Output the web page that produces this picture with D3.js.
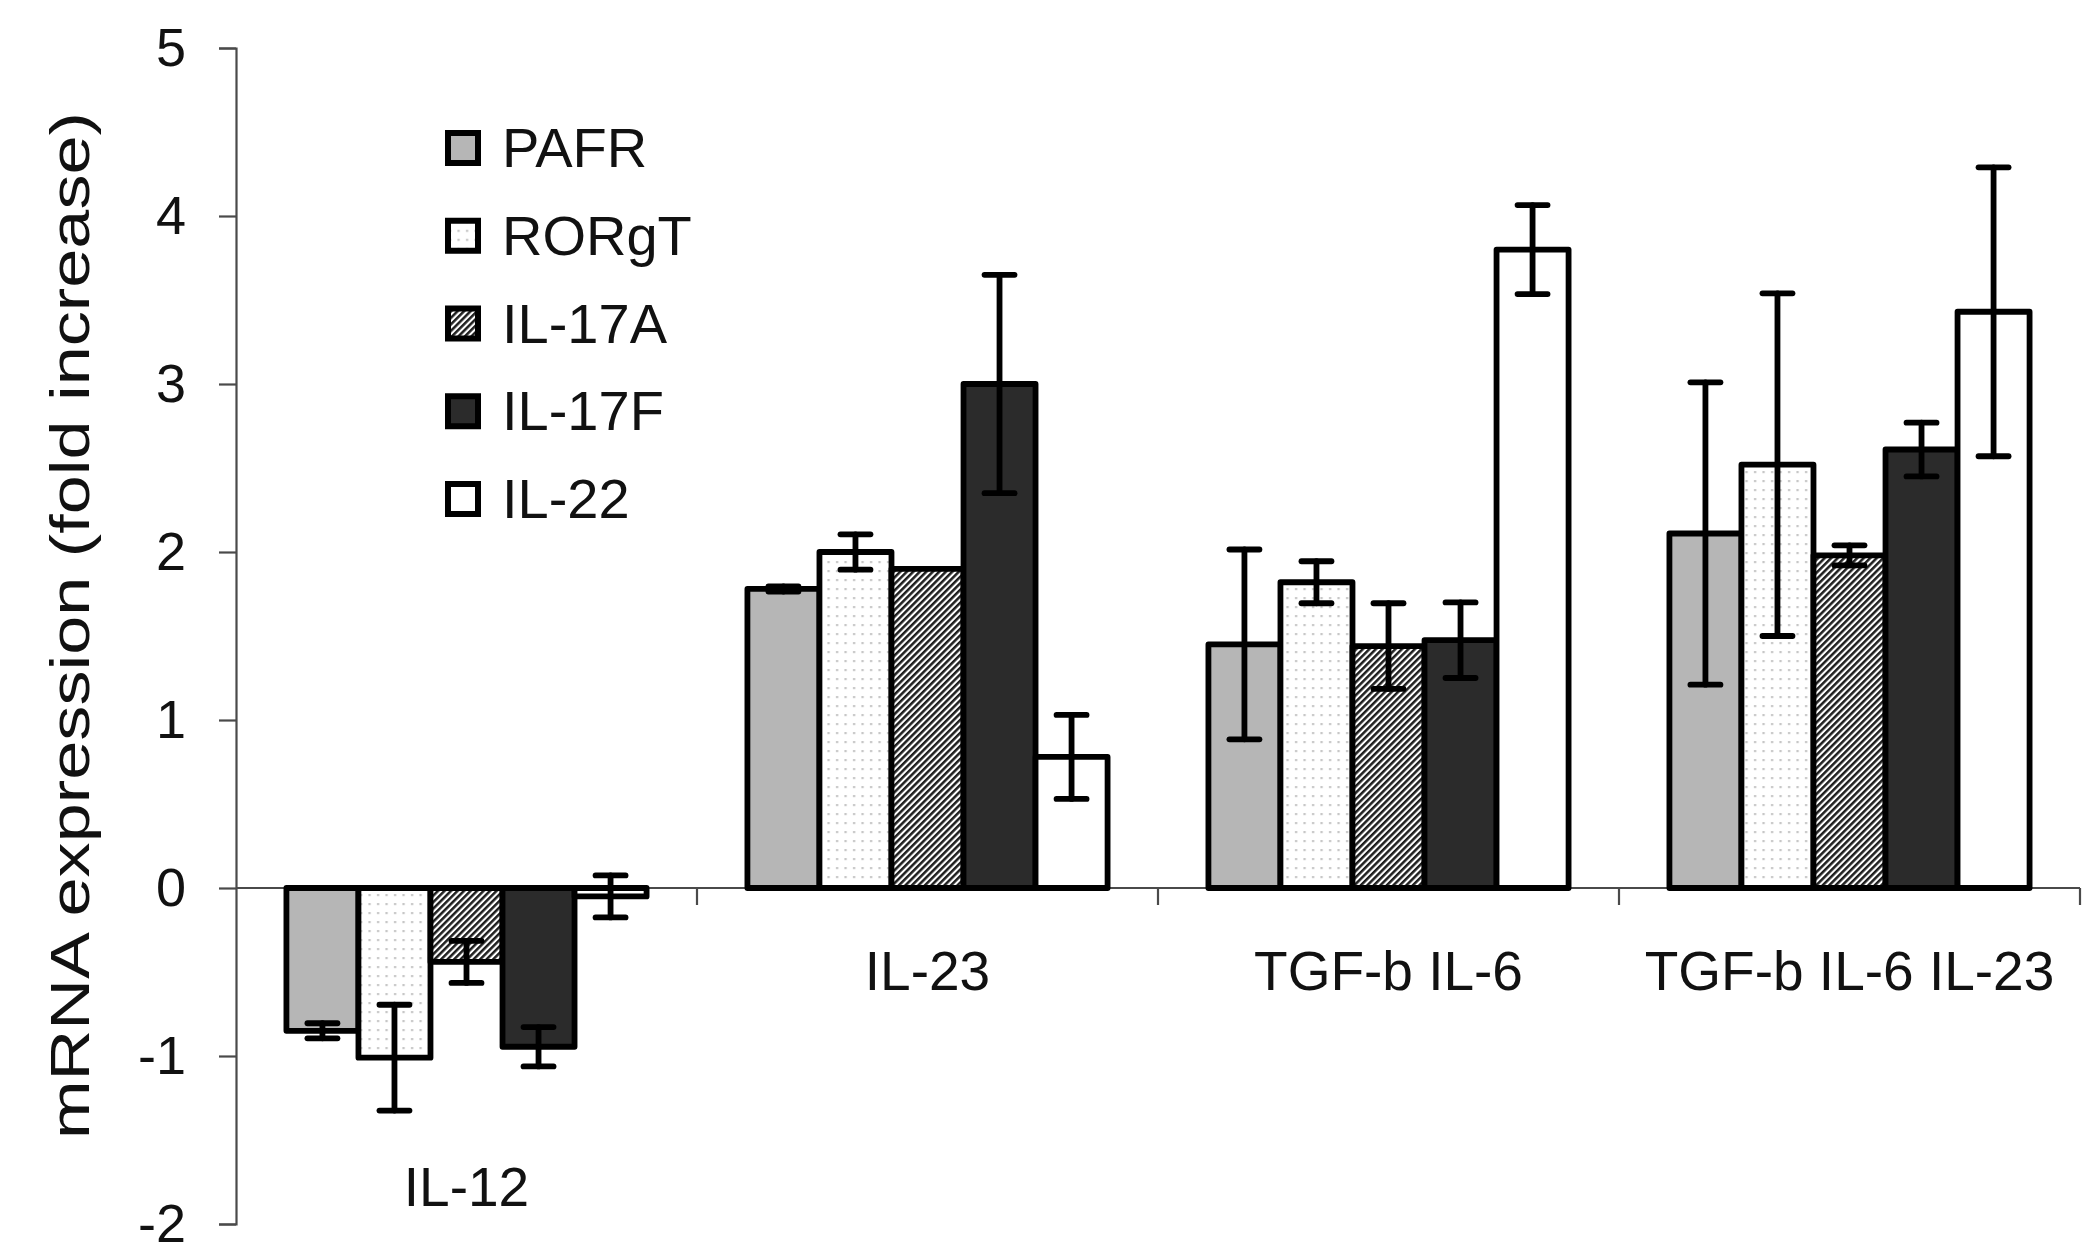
<!DOCTYPE html>
<html>
<head>
<meta charset="utf-8">
<script src="https://cdn.jsdelivr.net/npm/d3@7"></script>
<style>
  html, body { margin: 0; padding: 0; background: #ffffff; }
  svg { display: block; }
</style>
</head>
<body>
<svg id="chart" width="2100" height="1259"></svg>
<script>
// ---------- data ----------
const categories = ["IL-12", "IL-23", "TGF-b IL-6", "TGF-b IL-6 IL-23"];
const seriesNames = ["PAFR", "RORgT", "IL-17A", "IL-17F", "IL-22"];

const PAFR      = [-0.85, 1.78, 1.45, 2.11];
const PAFR_err  = [0.045, 0.015, 0.565, 0.90];
const RORgT     = [-1.01, 2.00, 1.82, 2.52];
const RORgT_err = [0.315, 0.105, 0.125, 1.02];
const IL17A     = [-0.44, 1.90, 1.44, 1.98];
const IL17A_err = [0.125, 0.0, 0.255, 0.06];
const IL17F     = [-0.945, 3.00, 1.475, 2.61];
const IL17F_err = [0.117, 0.65, 0.225, 0.16];
const IL22      = [-0.05, 0.78, 3.80, 3.43];
const IL22_err  = [0.125, 0.25, 0.265, 0.86];

const yTicks = [-2, -1, 0, 1, 2, 3, 4, 5];
const yTickLabels = ["-2", "-1", "0", "1", "2", "3", "4", "5"];
const yTitle = "mRNA expression (fold increase)";

const seriesValues = [PAFR, RORgT, IL17A, IL17F, IL22];
const seriesErrors = [PAFR_err, RORgT_err, IL17A_err, IL17F_err, IL22_err];

// ---------- layout ----------
const svg = d3.select("#chart");
const FONT = "'Liberation Sans', Arial, sans-serif";
const plot = { left: 236, right: 2080, top: 48, bottom: 1224 };

const y = d3.scaleLinear().domain([-2, 5]).range([plot.bottom, plot.top]);
const x0 = d3.scaleBand().domain(categories).range([plot.left, plot.right]).paddingInner(0).paddingOuter(0);
const x1 = d3.scaleBand().domain(seriesNames).range([0, x0.bandwidth()]).paddingInner(0).paddingOuter(0.70);

// ---------- patterns ----------
const defs = svg.append("defs");
const dots = defs.append("pattern").attr("id", "dots").attr("patternUnits", "userSpaceOnUse")
  .attr("width", 8.5).attr("height", 9);
dots.append("rect").attr("width", 8.5).attr("height", 9).attr("fill", "#ffffff");
dots.append("rect").attr("x", 3).attr("y", 3).attr("width", 2.2).attr("height", 2.2).attr("fill", "#c4c4c4");

const hatch = defs.append("pattern").attr("id", "hatch").attr("patternUnits", "userSpaceOnUse")
  .attr("width", 4.6).attr("height", 10).attr("patternTransform", "rotate(45)");
hatch.append("rect").attr("width", 4.6).attr("height", 10).attr("fill", "#ffffff");
hatch.append("rect").attr("x", 0).attr("width", 2.5).attr("height", 10).attr("fill", "#1e1e1e");

const fills = {
  "PAFR": "#b6b6b6",
  "RORgT": "url(#dots)",
  "IL-17A": "url(#hatch)",
  "IL-17F": "#2b2b2b",
  "IL-22": "#ffffff"
};

// ---------- axes ----------
const yAxis = svg.append("g").attr("transform", `translate(${plot.left},0)`)
  .call(d3.axisLeft(y).tickValues(yTicks).tickSize(17).tickPadding(33)
    .tickFormat((d, i) => yTickLabels[i]));
yAxis.select(".domain").attr("stroke", "#4a4a4a").attr("stroke-width", 2.2);
yAxis.selectAll(".tick line").attr("stroke", "#4a4a4a").attr("stroke-width", 2.2);
yAxis.selectAll(".tick text").attr("font-family", FONT).attr("font-size", 54).attr("fill", "#111");

// x axis line at zero with boundary ticks
const xAxisG = svg.append("g");
xAxisG.append("line")
  .attr("x1", plot.left).attr("x2", plot.right)
  .attr("y1", y(0)).attr("y2", y(0))
  .attr("stroke", "#4a4a4a").attr("stroke-width", 2.2);
const boundaries = categories.slice(1).map(c => x0(c)).concat([x0(categories[categories.length - 1]) + x0.bandwidth()]);
xAxisG.selectAll("line.bt").data(boundaries).enter().append("line")
  .attr("class", "bt")
  .attr("x1", d => d).attr("x2", d => d)
  .attr("y1", y(0)).attr("y2", y(0) + 17)
  .attr("stroke", "#4a4a4a").attr("stroke-width", 2.2);

// ---------- bars ----------
const rows = [];
categories.forEach((c, ci) => {
  seriesNames.forEach((s, si) => {
    rows.push({ cat: c, ser: s, v: seriesValues[si][ci], e: seriesErrors[si][ci] });
  });
});

const barG = svg.append("g");
barG.selectAll("rect.bar").data(rows).enter().append("rect")
  .attr("class", "bar")
  .attr("x", d => x0(d.cat) + x1(d.ser))
  .attr("width", x1.bandwidth())
  .attr("y", d => Math.min(y(d.v), y(0)))
  .attr("height", d => Math.abs(y(d.v) - y(0)))
  .attr("fill", d => fills[d.ser])
  .attr("stroke", "#000")
  .attr("stroke-width", 5.8)
  .attr("stroke-linejoin", "round");

// ---------- error bars ----------
const capW = 30;
const errG = svg.append("g").attr("stroke", "#000").attr("stroke-width", 5.8).attr("stroke-linecap", "round");
const withErr = rows.filter(d => d.e > 0);
errG.selectAll("line.stem").data(withErr).enter().append("line")
  .attr("x1", d => x0(d.cat) + x1(d.ser) + x1.bandwidth() / 2)
  .attr("x2", d => x0(d.cat) + x1(d.ser) + x1.bandwidth() / 2)
  .attr("y1", d => y(d.v + d.e)).attr("y2", d => y(d.v - d.e));
errG.selectAll("line.capTop").data(withErr).enter().append("line")
  .attr("x1", d => x0(d.cat) + x1(d.ser) + x1.bandwidth() / 2 - capW / 2)
  .attr("x2", d => x0(d.cat) + x1(d.ser) + x1.bandwidth() / 2 + capW / 2)
  .attr("y1", d => y(d.v + d.e)).attr("y2", d => y(d.v + d.e));
errG.selectAll("line.capBot").data(withErr).enter().append("line")
  .attr("x1", d => x0(d.cat) + x1(d.ser) + x1.bandwidth() / 2 - capW / 2)
  .attr("x2", d => x0(d.cat) + x1(d.ser) + x1.bandwidth() / 2 + capW / 2)
  .attr("y1", d => y(d.v - d.e)).attr("y2", d => y(d.v - d.e));

// ---------- category labels ----------
svg.append("g").selectAll("text").data(categories).enter().append("text")
  .attr("x", d => x0(d) + x0.bandwidth() / 2)
  .attr("y", (d, i) => d3.min(seriesValues, s => s[i]) < -0.2 ? plot.bottom - 18 : 990)
  .attr("text-anchor", "middle")
  .attr("font-family", FONT).attr("font-size", 55).attr("fill", "#111")
  .text(d => d);

// ---------- y title ----------
svg.append("text")
  .attr("transform", `translate(89, ${(112 + 1139) / 2}) rotate(-90)`)
  .attr("text-anchor", "middle")
  .attr("font-family", FONT).attr("font-size", 55).attr("fill", "#111")
  .attr("textLength", 1027).attr("lengthAdjust", "spacingAndGlyphs")
  .text(yTitle);

// ---------- legend ----------
const legY = d3.scalePoint().domain(seriesNames).range([148, 499]);
const leg = svg.append("g");
const legItems = leg.selectAll("g").data(seriesNames).enter().append("g")
  .attr("transform", d => `translate(463, ${legY(d)})`);
legItems.append("rect")
  .attr("x", -15).attr("y", -15).attr("width", 30).attr("height", 30)
  .attr("fill", d => fills[d]).attr("stroke", "#000").attr("stroke-width", 6);
legItems.append("text")
  .attr("x", 39).attr("y", 19)
  .attr("font-family", FONT).attr("font-size", 56).attr("fill", "#111")
  .text(d => d);
</script>
</body>
</html>
